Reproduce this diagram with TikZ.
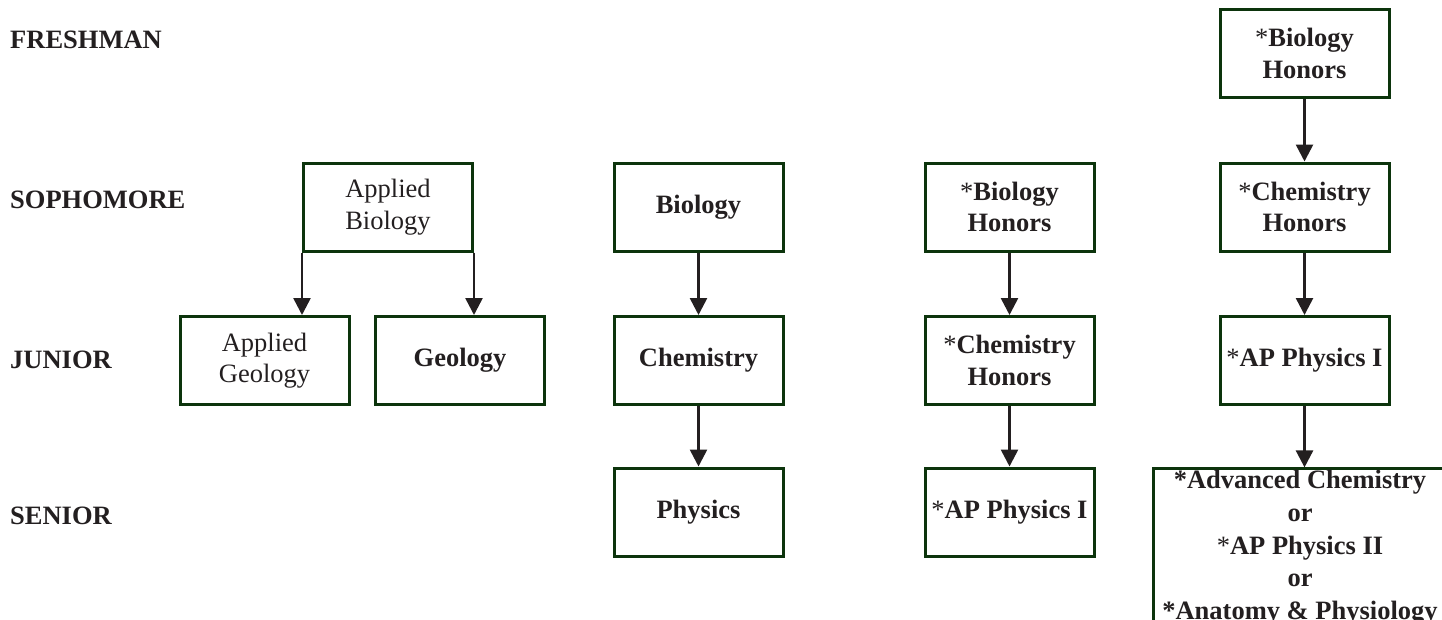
\documentclass[tikz,border=0pt]{standalone}
\usepackage{fontspec}
\setmainfont{Liberation Serif}
\usetikzlibrary{arrows.meta}
\definecolor{boxgreen}{RGB}{12,52,12}
\definecolor{ink}{RGB}{35,31,32}
\newcommand\coursesize{\fontsize{26.5}{31.5}\selectfont}
\newcommand\reg{\textmd{*}}

\begin{document}
\begin{tikzpicture}[x=1pt,y=-1pt,
  course/.style={draw=boxgreen, line width=3pt, minimum width=169pt, minimum height=88pt,
    inner sep=0pt, align=center, text=ink, font=\coursesize\bfseries},
  applied/.style={course, font=\coursesize},
  level/.style={anchor=base west, inner sep=0pt, text=ink, font=\coursesize\bfseries},
  flow/.style={draw=ink, line width=2.6pt, -{Triangle[length=17pt,width=17pt]}}]
          \clip (0,0) rectangle (1442,619);
          \node[level] (fresh) at (10,48) {FRESHMAN};
          \node[level] (soph) at (10,208) {SOPHOMORE};
          \node[level] (jun) at (10,368) {JUNIOR};
          \node[level] (sen) at (10,524) {SENIOR};
          \node[applied] (abio) at (388,207) {Applied\\Biology};
          \node[applied] (ageo) at (264.5,360.5) {Applied\\Geology};
          \node[course] (geo) at (460,360.5) {Geology};
          \node[course] (bio) at (698.5,207) {Biology};
          \node[course] (chem) at (698.5,360.5) {Chemistry};
          \node[course] (phys) at (698.5,512) {Physics};
          \node[course] (hbio) at (1009.5,207) {\reg Biology\\Honors};
          \node[course] (hchem) at (1009.5,360.5) {\reg Chemistry\\Honors};
          \node[course] (apone) at (1009.5,512) {\reg AP Physics I};
          \node[course] (fbio) at (1304.5,53.5) {\reg Biology\\Honors};
          \node[course] (fchem) at (1304.5,207) {\reg Chemistry\\Honors};
          \node[course] (fapone) at (1304.5,360.5) {\reg AP Physics I};
          \node[course, anchor=north west, minimum width=300pt, minimum height=200pt] (opts) at (1152.4,467.4) {};
          \node[inner sep=0pt, align=center, text=ink, font=\fontsize{26.5}{32.7}\selectfont\bfseries] (optstext) at (1300,548)
            {*Advanced Chemistry\\or\\\reg AP Physics II\\or\\*Anatomy \& Physiology};
          \draw[flow] (abio.south west) -- (abio.south west |- ageo.north);
          \draw[flow] (abio.south east) -- (abio.south east |- geo.north);
          \draw[flow] (bio) -- (chem);
          \draw[flow] (chem) -- (phys);
          \draw[flow] (hbio) -- (hchem);
          \draw[flow] (hchem) -- (apone);
          \draw[flow] (fbio) -- (fchem);
          \draw[flow] (fchem) -- (fapone);
          \draw[flow] (fapone) -- (fapone |- opts.north);
\end{tikzpicture}
\end{document}
